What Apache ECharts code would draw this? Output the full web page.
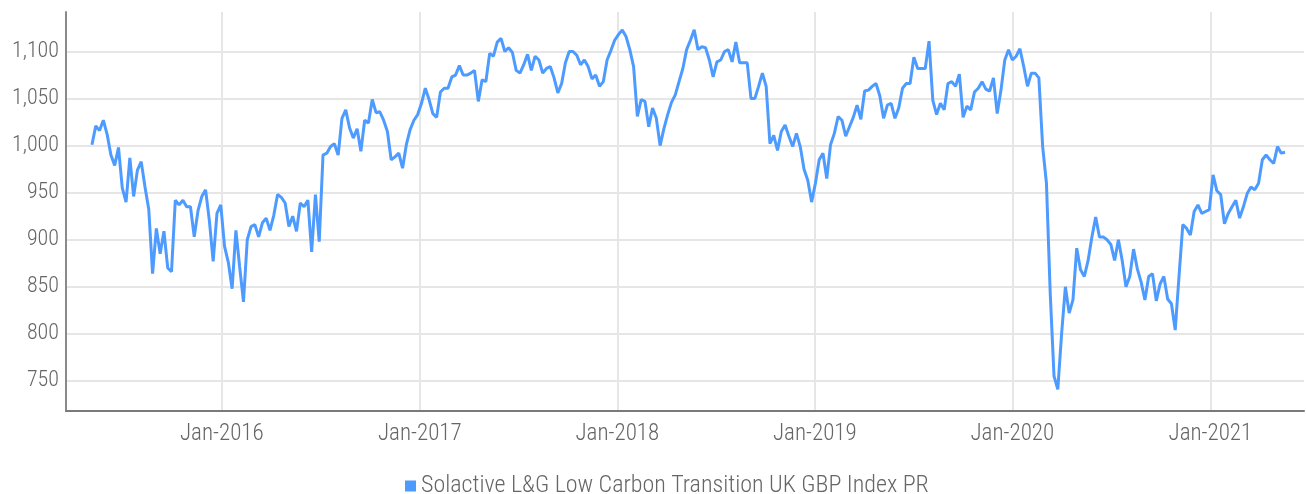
<!DOCTYPE html>
<html>
<head>
<meta charset="utf-8">
<script src="https://cdn.jsdelivr.net/npm/echarts@6/dist/echarts.min.js"></script>
<style>
  html, body { margin: 0; padding: 0; background: #ffffff; }
  #chart { width: 1306px; height: 494px; }
</style>
</head>
<body>
<div id="chart"></div>
<script>
// Weekly closing levels of the index, first observation on firstDate
const seriesName = 'Solactive L&G Low Carbon Transition UK GBP Index PR';
const firstDate = [2015, 5, 6];   // year, month, day
const stepDays = 7;

const indexValues = [
  // 2015
  1001, 1021, 1016, 1027, 1012, 990, 979, 998, 955, 940,
  987, 946, 974, 983, 956, 932, 864, 912, 885, 909,
  870, 866, 942, 937, 942, 935, 935, 903, 931, 946,
  953, 920, 877, 928, 937, 893, 876, 848, 910, 871,
  // 2016
  834, 900, 914, 916, 903, 918, 923, 910, 926, 948,
  945, 939, 914, 925, 909, 939, 935, 942, 887, 948,
  898, 990, 992, 999, 1002, 990, 1029, 1038, 1019, 1008,
  1018, 994, 1027, 1024, 1049, 1035, 1036, 1027, 1015, 985,
  988, 992, 976, 1001, 1017, 1027, 1033, 1045, 1061,
  // 2017
  1049, 1034, 1030, 1057, 1061, 1061, 1073, 1075, 1085, 1075,
  1075, 1077, 1080, 1047, 1070, 1068, 1098, 1095, 1110, 1114,
  1100, 1104, 1099, 1080, 1077, 1086, 1097, 1080, 1095, 1091,
  1077, 1082, 1084, 1072, 1056, 1066, 1088, 1100, 1100, 1096,
  1086, 1091, 1084, 1071, 1075, 1063, 1068, 1091, 1101, 1112,
  1118, 1123,
  // 2018
  1116, 1102, 1084, 1031, 1049, 1047, 1020, 1040, 1029, 1000,
  1018, 1033, 1046, 1054, 1068, 1082, 1102, 1112, 1123, 1102,
  1105, 1104, 1091, 1073, 1089, 1091, 1100, 1102, 1089, 1110,
  1088, 1088, 1088, 1050, 1050, 1063, 1077, 1063, 1002, 1011,
  995, 1015, 1022, 1010, 999, 1013, 999, 975, 963, 940,
  // 2019
  960, 985, 992, 965, 1001, 1013, 1031, 1027, 1010, 1020,
  1030, 1043, 1028, 1058, 1059, 1063, 1066, 1053, 1029, 1043,
  1045, 1029, 1040, 1061, 1066, 1066, 1094, 1082, 1082, 1082,
  1111, 1048, 1033, 1045, 1038, 1066, 1068, 1063, 1076, 1030,
  1042, 1038, 1057, 1061, 1068, 1060, 1058, 1072, 1034, 1059,
  1091, 1102,
  // 2020
  1091, 1095, 1103, 1084, 1063, 1077, 1077, 1072, 999, 960,
  843, 755, 741, 800, 850, 822, 836, 891, 868, 861,
  878, 903, 924, 903, 903, 900, 895, 878, 900, 878,
  850, 861, 890, 869, 855, 836, 861, 864, 835, 853,
  861, 837, 832, 804, 861, 916, 912, 905, 930, 937,
  928, 930,
  // 2021
  932, 969, 952, 948, 917, 928, 935, 942, 923, 935,
  949, 956, 953, 960, 985, 990, 985, 981, 999, 992,
  993
];

// Axis tick positions and labels
const yearTicks = [2016, 2017, 2018, 2019, 2020, 2021];
const valueTicks = [750, 800, 850, 900, 950, 1000, 1050, 1100];

const DAY = 86400000;
const t0 = Date.UTC(firstDate[0], firstDate[1] - 1, firstDate[2]);
const points = indexValues.map((v, i) => [t0 + i * stepDays * DAY, v]);
const yearTickTimes = yearTicks.map(y => Date.UTC(y, 0, 1));

const FONT = "'Roboto Condensed', Roboto, sans-serif";
const TEXT_COLOR = '#666666';
const GRID_COLOR = '#e6e6e6';
const LINE_COLOR = '#4e9bff';

const chart = echarts.init(document.getElementById('chart'), null, { renderer: 'canvas' });

chart.setOption({
  animation: false,
  backgroundColor: '#ffffff',
  grid: { left: 66, right: 2, top: 12, bottom: 83 },
  legend: {
    data: [{ name: seriesName, icon: 'rect' }],
    left: 400,
    top: 469,
    itemWidth: 11,
    itemHeight: 11,
    itemGap: 0,
    textStyle: { fontFamily: FONT, fontSize: 24, fontWeight: 300, color: TEXT_COLOR }
  },
  xAxis: {
    type: 'value',
    min: Date.UTC(2015, 2, 19),
    max: Date.UTC(2021, 5, 23),
    axisLine: { show: true, lineStyle: { color: '#7a7a7a', width: 2 } },
    axisTick: { show: false, customValues: yearTickTimes },
    axisLabel: {
      customValues: yearTickTimes,
      formatter: v => 'Jan-' + new Date(v).getUTCFullYear(),
      fontFamily: FONT,
      fontSize: 23,
      fontWeight: 300,
      color: TEXT_COLOR,
      margin: 12
    },
    splitLine: { show: true, lineStyle: { color: GRID_COLOR, width: 2 } }
  },
  yAxis: {
    type: 'value',
    min: 718,
    max: 1142,
    axisLine: { show: true, lineStyle: { color: '#8a8a8a', width: 2 } },
    axisTick: { show: false, customValues: valueTicks },
    axisLabel: {
      customValues: valueTicks,
      formatter: v => v.toLocaleString('en-US'),
      fontFamily: FONT,
      fontSize: 22,
      fontWeight: 300,
      color: TEXT_COLOR,
      margin: 7
    },
    splitLine: { show: true, lineStyle: { color: GRID_COLOR, width: 2 } }
  },
  series: [{
    name: seriesName,
    type: 'line',
    data: points,
    showSymbol: false,
    symbol: 'none',
    lineStyle: { color: LINE_COLOR, width: 3 },
    itemStyle: { color: LINE_COLOR }
  }]
});
</script>
</body>
</html>
